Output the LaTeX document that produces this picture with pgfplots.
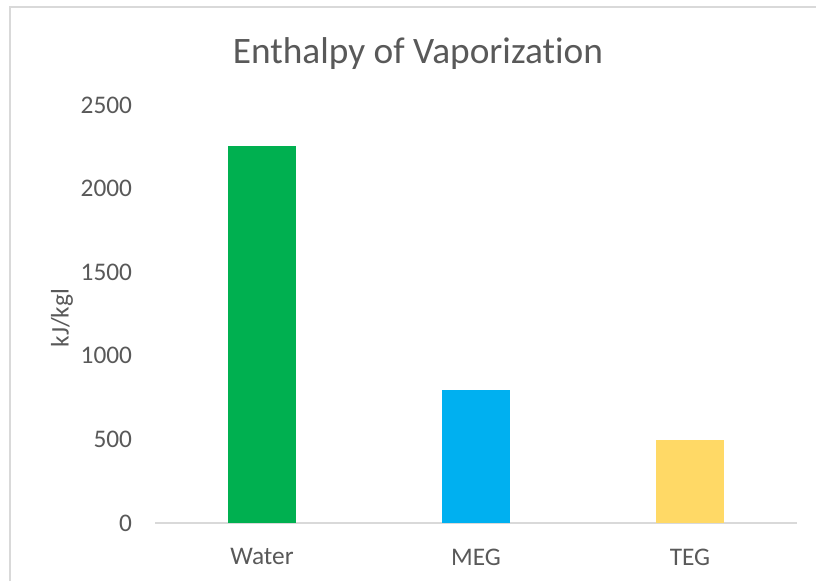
\documentclass[border=0pt]{standalone}
\usepackage{pgfplots}
\pgfplotsset{compat=1.18}
\usepackage{fontspec}
\setmainfont{Carlito}[Ligatures={NoCommon}]
\definecolor{bargreen}{HTML}{00B050}
\definecolor{barblue}{HTML}{00B0F0}
\definecolor{baryellow}{HTML}{FFD966}
\definecolor{linegray}{HTML}{D9D9D9}
\definecolor{textgray}{HTML}{595959}
\begin{document}
\begin{tikzpicture}
\path[use as bounding box] (0,0) rectangle (612pt,435.75pt);
\draw[linegray, line width=1.5pt] (10*0.75pt,0) -- (10*0.75pt,574*0.75pt) -- (612pt,574*0.75pt);
\begin{axis}[
  at={(155*0.75pt,58*0.75pt)}, anchor=south west,
  scale only axis,
  width=642*0.75pt, height=418*0.75pt,
  xmin=-0.5, xmax=2.5, ymin=0, ymax=2500,
  xtick={0,1,2}, xticklabels={Water,MEG,TEG},
  ytick={0,500,1000,1500,2000,2500},
  major tick length=0pt,
  axis line style={draw=none},
  /pgf/number format/assume math mode=true,
  /pgf/number format/1000 sep={},
  tick label style={font=\fontsize{19}{23}\selectfont, text=textgray},
  yticklabel style={inner sep=0pt, xshift=-17pt},
  xticklabel style={inner sep=0pt, yshift=-19pt},
  ylabel={kJ/kgl},
  ylabel style={at={(axis description cs:-0.1449,0.49)}, anchor=center, font=\fontsize{19}{23}\selectfont, text=textgray},
  title={Enthalpy of Vaporization},
  title style={at={(axis description cs:0.4097,1.103)}, anchor=center, font=\fontsize{28}{34}\selectfont, text=textgray},
  ybar, bar width=51pt,
  clip=false,
]
\draw[linegray, line width=1.1pt] (axis cs:-0.5,0) -- (axis cs:2.5,0);
\addplot[fill=bargreen, draw=none, bar shift=0pt] coordinates {(0,2256)};
\addplot[fill=barblue, draw=none, bar shift=0pt] coordinates {(1,796)};
\addplot[fill=baryellow, draw=none, bar shift=0pt] coordinates {(2,497)};
\end{axis}
\end{tikzpicture}
\end{document}
